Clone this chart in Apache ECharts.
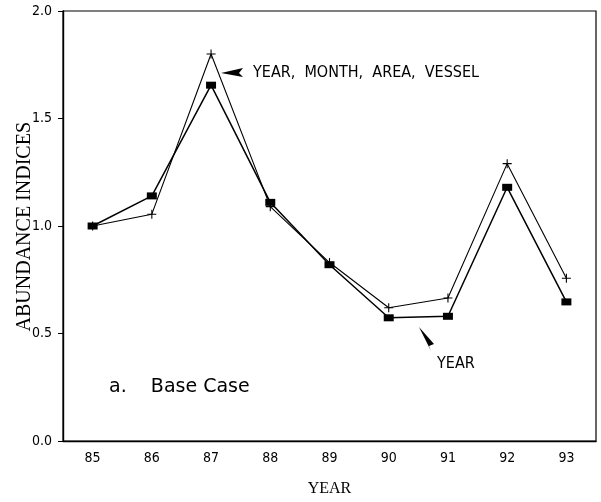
<!DOCTYPE html>
<html>
<head>
<meta charset="utf-8">
<script src="https://cdn.jsdelivr.net/npm/echarts@6/dist/echarts.min.js"></script>
<style>html,body{margin:0;padding:0;background:#fff}#c{width:601px;height:502px}</style>
</head>
<body>
<div id="c"></div>
<script>
const years = ['85','86','87','88','89','90','91','92','93'];
const fullModel = [1.00, 1.055, 1.80, 1.09, 0.83, 0.62, 0.665, 1.29, 0.757];   // YEAR, MONTH, AREA, VESSEL (+)
const yearOnly  = [1.00, 1.14, 1.655, 1.11, 0.82, 0.573, 0.58, 1.18, 0.647];  // YEAR (squares)
const yTicks = [0.0, 0.5, 1.0, 1.5, 2.0];

const chart = echarts.init(document.getElementById('c'), null, {renderer: 'canvas'});
const tickFont = '"DejaVu Sans Condensed", "Liberation Sans Narrow", sans-serif';
const plusPath = 'path://M0,4.4H10V5.6H0ZM4.4,0H5.6V10H4.4Z';

chart.setOption({
  backgroundColor: '#ffffff',
  animation: false,
  grid: {left: 63, right: 5, top: 11, bottom: 55, show: true, borderColor: '#000', borderWidth: 1.2, backgroundColor: 'transparent'},
  xAxis: {
    type: 'category', data: years, boundaryGap: true,
    name: 'YEAR', nameLocation: 'middle', nameGap: 40,
    nameTextStyle: {fontFamily: '"Liberation Serif", serif', fontSize: 16, color: '#000'},
    axisLine: {lineStyle: {color: '#000', width: 1.4}},
    axisTick: {alignWithLabel: true, length: 3, lineStyle: {color: '#000'}},
    axisLabel: {color: '#000', fontFamily: tickFont, fontSize: 14, margin: 10}
  },
  yAxis: {
    type: 'value', min: yTicks[0], max: yTicks[yTicks.length-1], interval: 0.5,
    splitLine: {show: false},
    axisLine: {show: true, lineStyle: {color: '#000', width: 1.4}},
    axisTick: {show: true, length: 5, lineStyle: {color: '#000'}},
    axisLabel: {color: '#000', fontFamily: tickFont, fontSize: 14, margin: 11,
      formatter: v => v.toFixed(1)}
  },
  series: [
    {
      name: 'YEAR', type: 'line', data: yearOnly,
      symbol: 'rect', symbolSize: [10, 7],
      itemStyle: {color: '#000'},
      lineStyle: {color: '#000', width: 1.5}
    },
    {
      name: 'YEAR, MONTH, AREA, VESSEL', type: 'line', data: fullModel,
      symbol: plusPath, symbolSize: 9, symbolKeepAspect: true,
      itemStyle: {color: '#000'},
      lineStyle: {color: '#000', width: 1.1}
    }
  ],
  graphic: [
    {type: 'text', left: 15, top: 122, rotation: Math.PI/2, origin: [0,0],
      style: {text: 'ABUNDANCE INDICES', font: '20px "Liberation Serif", serif', fill: '#000'}},
    {type: 'polygon', shape: {points: [[221,73],[243,68],[239,73],[243,77]]}, style: {fill: '#000'}},
    {type: 'text', x: 253, y: 65, style: {text: 'YEAR,  MONTH,  AREA,  VESSEL', font: '16px "DejaVu Sans Condensed", sans-serif', fill: '#000'}},
    {type: 'polygon', shape: {points: [[419,327],[434,344],[429,346],[431,351]]}, style: {fill: '#000'}},
    {type: 'text', x: 437, y: 356, style: {text: 'YEAR', font: '16px "DejaVu Sans Condensed", sans-serif', fill: '#000'}},
    {type: 'text', x: 109, y: 378, style: {text: 'a.    Base Case', font: '19px "DejaVu Sans", sans-serif', fill: '#000'}}
  ]
});
</script>
</body>
</html>
